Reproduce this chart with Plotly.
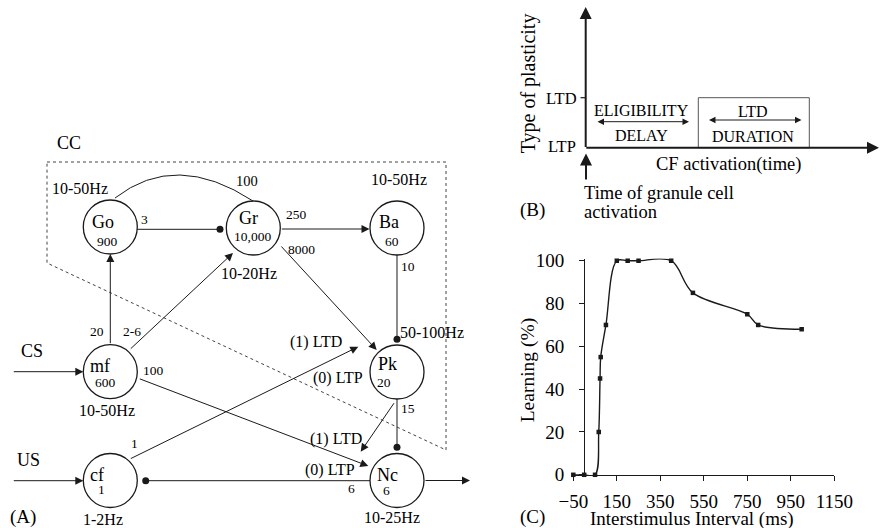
import plotly.graph_objects as go

# ---------------- Panel C data ----------------
isi_ms = [-50, 0, 50, 67, 73, 76, 100, 150, 200, 250, 400, 500, 750, 800, 1000]
learning_pct = [0, 0, 0, 20, 45, 55, 70, 100, 100, 100, 100, 85, 75, 70, 68]
x_ticks = [-50, 150, 350, 550, 750, 950, 1150]
y_ticks = [0, 20, 40, 60, 80, 100]

# ---------------- Panel A data ----------------
node_names = ["Go", "Gr", "Ba", "mf", "Pk", "cf", "Nc"]
node_counts = ["900", "10,000", "60", "600", "20", "1", "6"]
node_rates = ["10-50Hz", "10-20Hz", "10-50Hz", "10-50Hz", "50-100Hz", "1-2Hz", "10-25Hz"]
edge_weights = ["20", "2-6", "3", "100", "250", "8000", "10", "100", "1", "15", "6"]
plasticity_labels = ["(1) LTD", "(0) LTP"]
inputs = ["CS", "US"]

# ---------------- Panel B text ----------------
b_levels = ["LTD", "LTP"]
b_texts = ["ELIGIBILITY", "DELAY", "LTD", "DURATION"]

# ---------------- layout (pixel positions) ----------------
FONT = "Liberation Serif"
INK = "#1a1a1a"
NODE_POS = {"Go": (110.3, 227), "Gr": (253.3, 228), "Ba": (397, 228),
            "mf": (110.3, 371.7), "Pk": (397, 372), "cf": (110.3, 480.5), "Nc": (397, 480.5)}
NAME_OFF = {"Go": (-7, -5), "Gr": (-5, -10), "Ba": (-8, -6), "mf": (-10, -6),
            "Pk": (-10, -8), "cf": (-13, -6), "Nc": (-10, -6)}
COUNT_OFF = {"Go": (-3, 14), "Gr": (-1, 8), "Ba": (-5, 13), "mf": (-5, 11),
             "Pk": (-13, 10), "cf": (-9, 9), "Nc": (-11, 10)}
RATE_POS = {"Go": (80, 188), "Gr": (249, 273), "Ba": (398.7, 179), "mf": (106.7, 410),
            "Pk": (432, 332), "cf": (103.3, 519), "Nc": (391.7, 517)}
# kind, x0, y0, x1, y1, label position
EDGE_GEOM = [
    ("arrow", 110.3, 344.7, 110.3, 254.0, (96.7, 331.7)),
    ("arrow", 129.3, 350.0, 233.0, 253.0, (131.7, 331.7)),
    ("dot", 137.3, 229.3, 220.0, 229.3, (144, 219)),
    ("arc", 115, 198, 253, 201, (247, 181)),
    ("arrow", 280.3, 229.0, 369.5, 229.0, (296, 214)),
    ("arrow", 280.0, 245.0, 376.7, 350.0, (301.7, 249)),
    ("dot", 397.0, 255.0, 397.0, 339.3, (408, 266)),
    ("arrow", 138.3, 378.3, 368.3, 466.0, (153, 370)),
    ("arrow", 129.3, 459.3, 358.3, 346.7, (134.3, 443.3)),
    ("dot", 397.0, 399.0, 397.0, 447.3, (408.3, 408.3)),
    ("dot", 370.0, 480.7, 145.7, 480.7, (351, 488.3)),
]
PLAST_POS = [[(316, 342), (338, 378)], [(336, 439), (330, 470)]]
INPUT_ARROWS = [((12.3, 371.7), (83.3, 371.7), (32.3, 350.7)),
                ((12.3, 480.7), (83.3, 480.7), (28.3, 460))]

fig = go.Figure()

# ----- Panel C curve -----
fig.add_trace(go.Scatter(
    x=isi_ms, y=learning_pct, mode="lines+markers",
    line=dict(color=INK, width=1.4, shape="spline", smoothing=1),
    marker=dict(symbol="square", size=4.5, color=INK),
    cliponaxis=False, showlegend=False, hoverinfo="skip",
    xaxis="x", yaxis="y"))

# ----- Panel A nodes -----
fig.add_trace(go.Scatter(
    x=[NODE_POS[n][0] for n in node_names], y=[NODE_POS[n][1] for n in node_names],
    mode="markers", marker=dict(size=54, color="white", line=dict(color=INK, width=1.3)),
    showlegend=False, hoverinfo="skip", xaxis="x2", yaxis="y2"))

shapes = []
annots = []
dots_x, dots_y = [], []


def txt(x, y, s, size, xanchor="center", angle=0):
    annots.append(dict(x=x, y=y, xref="x2", yref="y2", text=s, showarrow=False,
                       font=dict(size=size, color="black", family=FONT),
                       xanchor=xanchor, yanchor="middle", textangle=angle))


def arrow(x0, y0, x1, y1, width=1.0, size=1.6, side="end"):
    annots.append(dict(x=x1, y=y1, ax=x0, ay=y0, xref="x2", yref="y2", axref="x2", ayref="y2",
                       text="", showarrow=True, arrowhead=2, arrowsize=size, arrowwidth=width,
                       arrowcolor=INK, arrowside=side, standoff=0, startstandoff=0))


def line(x0, y0, x1, y1, width=1.0, dash="solid", color=INK):
    shapes.append(dict(type="line", x0=x0, y0=y0, x1=x1, y1=y1, xref="x2", yref="y2",
                       line=dict(color=color, width=width, dash=dash)))


# CC dotted region
shapes.append(dict(type="path", path="M 47 162 L 446 162 L 446 450 L 47 263 Z",
                   xref="x2", yref="y2", line=dict(color="#444", width=1, dash="dot")))
txt(69, 143, "CC", 18)

for i, n in enumerate(node_names):
    cx, cy = NODE_POS[n]
    txt(cx + NAME_OFF[n][0], cy + NAME_OFF[n][1], n, 18)
    txt(cx + COUNT_OFF[n][0], cy + COUNT_OFF[n][1], node_counts[i], 13.5)
    rx, ry = RATE_POS[n]
    txt(rx, ry, node_rates[i], 16)

for (kind, x0, y0, x1, y1, lab), w in zip(EDGE_GEOM, edge_weights):
    if kind == "arrow":
        arrow(x0, y0, x1, y1)
    elif kind == "dot":
        line(x0, y0, x1, y1)
        dots_x.append(x1)
        dots_y.append(y1)
    elif kind == "arc":
        shapes.append(dict(type="path", path=f"M {x0} {y0} Q 176 150.5 {x1} {y1}",
                           xref="x2", yref="y2", line=dict(color=INK, width=1)))
    txt(lab[0], lab[1], w, 14.5 if kind == "arc" else 13.5)

# plasticity arrow Pk -> Nc
arrow(395, 401.7, 360.7, 451.7)
for pair in PLAST_POS:
    for lab, (px, py) in zip(plasticity_labels, pair):
        txt(px, py, lab, 16)

for name, ((x0, y0), (x1, y1), (lx, ly)) in zip(inputs, INPUT_ARROWS):
    arrow(x0, y0, x1, y1)
    txt(lx, ly, name, 18)
arrow(424, 480.5, 470, 480.5)
txt(23.3, 516.5, "(A)", 19)

fig.add_trace(go.Scatter(x=dots_x, y=dots_y, mode="markers",
                         marker=dict(size=7, color=INK), showlegend=False,
                         hoverinfo="skip", xaxis="x2", yaxis="y2"))

# ----- Panel B -----
arrow(585.7, 148.5, 585.7, 7, width=2, size=1.2)
arrow(584.8, 147.7, 879, 147.7, width=2, size=1.2)
arrow(586, 181, 586, 153.5, width=2, size=1.2)
line(580.5, 97.7, 585.7, 97.7, width=1.2)
txt(561.7, 98.5, b_levels[0], 16.5)
txt(561.7, 146.5, b_levels[1], 16.5)
txt(528.3, 83, "Type of plasticity", 20, angle=-90)
shapes.append(dict(type="rect", x0=698.3, y0=97.7, x1=809.3, y1=147.7, xref="x2", yref="y2",
                   line=dict(color="#555", width=1)))
txt(641.7, 110, b_texts[0], 16)
arrow(596, 121.7, 689, 121.7, width=1, size=1.3, side="end+start")
txt(641.7, 135, b_texts[1], 16)
txt(753.3, 111.5, b_texts[2], 16)
arrow(707.5, 120, 801.5, 120, width=1, size=1.3, side="end+start")
txt(753.3, 136.5, b_texts[3], 16)
txt(728.3, 164.3, "CF activation(time)", 18.5)
txt(582, 193.3, "Time of granule cell", 18.5, xanchor="left")
txt(582, 211.7, "activation", 18.5, xanchor="left")
txt(532, 210, "(B)", 19)

# ----- Panel C labels -----
txt(528.3, 370, "Learning (%)", 19.5, angle=-90)
txt(691.7, 519, "Interstimulus Interval (ms)", 19)
txt(532, 517.3, "(C)", 19)

W, H = 880, 528
y0px, y101px = 474.8, 258.6
fig.update_layout(
    width=W, height=H, margin=dict(l=0, r=0, t=0, b=0, pad=0, autoexpand=False),
    paper_bgcolor="white", plot_bgcolor="rgba(0,0,0,0)",
    font=dict(family=FONT, color="black"),
    showlegend=False,
    shapes=shapes, annotations=annots,
    xaxis=dict(domain=[573.3 / W, 834.3 / W], range=[-50, 1150], tickvals=x_ticks,
               ticks="outside", ticklen=5, tickwidth=1, tickcolor=INK,
               showline=True, linecolor=INK, linewidth=1.2, showgrid=False, zeroline=False,
               tickfont=dict(size=19, family=FONT, color="black"), anchor="y",
               fixedrange=True, ticklabelstandoff=4, automargin=False),
    yaxis=dict(domain=[(H - y0px) / H, (H - y101px) / H], range=[0, 101], tickvals=y_ticks,
               ticks="outside", ticklen=5, tickwidth=1, tickcolor=INK,
               showline=True, linecolor=INK, linewidth=1.2, showgrid=False, zeroline=False,
               tickfont=dict(size=19, family=FONT, color="black"),
               anchor="free", position=584.2 / W, fixedrange=True, ticklabelstandoff=11,
               automargin=False),
    xaxis2=dict(domain=[0, 1], range=[0, W], visible=False, anchor="y2", fixedrange=True),
    yaxis2=dict(domain=[0, 1], range=[H, 0], visible=False, anchor="x2", fixedrange=True),
)

fig.write_html("out.html", config={"displayModeBar": False},
               post_script="document.body.style.margin='0px';")
